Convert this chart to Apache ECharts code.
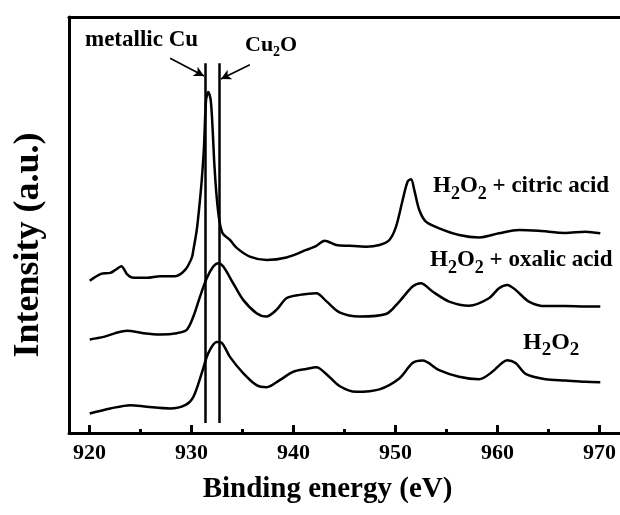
<!DOCTYPE html>
<html><head><meta charset="utf-8">
<script src="https://cdn.jsdelivr.net/npm/echarts@6/dist/echarts.min.js"></script>
<style>html,body{margin:0;padding:0;background:#fff}#c{width:620px;height:515px}</style>
</head><body><div id="c"></div><script>
// Binding energy (eV) and intensity (a.u.)
const citricE = [920.03,921.08,922.05,922.54,923.13,923.68,924.17,925.64,926.94,928.40,929.38,930.03,930.19,930.52,930.77,931.01,931.23,931.43,931.65,931.89,932.08,932.24,932.47,932.73,933.06,933.77,934.43,935.72,937.36,939.31,941.26,942.24,943.05,944.19,945.49,947.12,948.42,949.40,950.05,950.70,951.18,951.52,951.84,952.33,952.98,954.28,956.23,958.19,960.14,962.09,964.04,966.65,968.61,970.07];
const citricI = [36.6,38.2,38.5,39.2,40.1,38.2,37.4,37.3,37.7,37.7,39.2,42.1,44.0,48.8,54.4,60.8,68.8,80.0,82.0,80.0,72.8,64.8,56.8,51.2,48.0,46.4,44.5,42.4,41.6,42.2,44.0,45.0,46.2,45.2,45.0,44.8,45.2,46.4,49.6,56.0,60.4,61.0,58.4,53.6,50.8,49.2,47.6,47.0,48.0,48.8,48.6,48.1,48.4,48.0];
const oxalicE = [920.03,921.40,922.54,923.68,925.30,926.94,928.57,929.54,930.19,930.84,931.50,932.14,932.63,933.12,934.09,935.07,936.38,937.36,938.33,939.31,940.61,942.24,943.21,944.51,946.47,949.07,950.37,951.67,952.49,953.63,955.26,957.21,959.16,960.14,960.95,961.77,963.07,964.70,966.65,968.61,970.07];
const oxalicI = [22.5,23.1,24.0,24.6,24.0,23.7,24.0,24.8,28.0,32.8,37.2,40.0,40.8,40.0,36.0,32.0,28.8,28.0,29.6,32.4,33.2,33.6,31.7,29.0,28.0,28.6,31.6,35.2,36.0,34.0,31.6,30.6,32.4,34.8,35.6,34.4,31.6,30.5,30.5,30.4,30.4];
const h2o2E = [920.03,922.05,924.01,925.64,927.91,929.38,930.19,931.01,931.65,932.47,932.96,933.77,935.07,936.38,937.36,938.65,939.95,941.26,942.24,943.21,944.51,946.14,948.42,950.37,951.67,952.65,954.28,956.23,958.19,959.48,960.46,960.95,961.77,962.75,964.70,966.65,968.61,970.07];
const h2o2I = [4.7,5.9,6.7,6.3,5.9,6.7,8.7,14.4,19.2,21.9,21.7,18.3,14.4,11.5,11.0,12.7,14.7,15.4,15.8,14.2,11.3,9.9,10.5,13.1,16.8,17.4,15.1,13.5,12.9,14.7,16.9,17.5,16.8,14.2,12.9,12.6,12.3,12.2];
const majorTicks = [920,930,940,950,960,970];
const minorTicks = [925,935,945,955,965];
const refLines = [931.33, 932.7]; // metallic Cu, Cu2O

const pair = (e, v) => e.map((x, i) => [x, v[i]]);
const FF = '"Liberation Serif","Times New Roman",serif';
const lineStyle = {color:'#000', width:2.5};
const subRich = (main, sub, pad) => ({
  n:{fontFamily:FF, fontWeight:'bold', fontSize:main, fill:'#000', color:'#000', verticalAlign:'top'},
  s:{fontFamily:FF, fontWeight:'bold', fontSize:sub, fill:'#000', color:'#000', verticalAlign:'top', padding:[pad,0,0,0]}
});

const chart = echarts.init(document.getElementById('c'), null, {renderer:'canvas'});
chart.setOption({
  animation:false,
  backgroundColor:'#fff',
  grid:{left:69, top:17, width:553, height:416, show:false},
  xAxis:[{
    type:'value', min:918, max:972, position:'bottom',
    axisLine:{show:true, lineStyle:{color:'#000', width:3}},
    axisTick:{show:true, inside:true, length:8, customValues:majorTicks, lineStyle:{color:'#000', width:3}},
    axisLabel:{customValues:majorTicks, margin:9, color:'#000', fontFamily:FF, fontWeight:'bold', fontSize:22},
    splitLine:{show:false},
    name:'Binding energy (eV)', nameLocation:'middle', nameGap:42,
    nameTextStyle:{color:'#000', fontFamily:FF, fontWeight:'bold', fontSize:29, padding:[0,34,0,0]}
  },{
    type:'value', min:918, max:972, position:'bottom',
    axisLine:{show:false},
    axisTick:{show:true, inside:true, length:4, customValues:minorTicks, lineStyle:{color:'#000', width:3}},
    axisLabel:{show:false}, splitLine:{show:false}
  },{
    type:'value', min:918, max:972, position:'top',
    axisLine:{show:true, lineStyle:{color:'#000', width:3}},
    axisTick:{show:false}, axisLabel:{show:false}, splitLine:{show:false}
  }],
  yAxis:{
    type:'value', min:0, max:100,
    axisLine:{show:true, lineStyle:{color:'#000', width:3}},
    axisTick:{show:false}, axisLabel:{show:false}, splitLine:{show:false},
    name:'Intensity (a.u.)', nameLocation:'middle', nameGap:22, nameRotate:90,
    nameTextStyle:{color:'#000', fontFamily:FF, fontWeight:'bold', fontSize:36, padding:[0,40,0,0]}
  },
  series:[
    {type:'line', name:'H2O2 + citric acid', data:pair(citricE, citricI), showSymbol:false, smooth:0.3, lineStyle:lineStyle,
     markLine:{silent:true, symbol:['none','none'], label:{show:false}, lineStyle:{color:'#000', width:2.5, type:'solid'},
       data: refLines.map(e => [{coord:[e, 88.9]}, {coord:[e, 2.4]}])}},
    {type:'line', name:'H2O2 + oxalic acid', data:pair(oxalicE, oxalicI), showSymbol:false, smooth:0.3, lineStyle:lineStyle,
     markLine:{silent:true, symbol:['none','arrow'], symbolSize:[8,10], label:{show:false}, lineStyle:{color:'#000', width:1.6, type:'solid'},
       data:[
         [{coord:[927.91, 90.1]}, {coord:[931.23, 85.8]}],
         [{coord:[935.72, 88.5]}, {coord:[932.89, 85.1]}]
       ]}},
    {type:'line', name:'H2O2', data:pair(h2o2E, h2o2I), showSymbol:false, smooth:0.3, lineStyle:lineStyle}
  ],
  graphic:[
    {type:'text', x:85, y:29, style:{text:'metallic Cu', fontFamily:FF, fontWeight:'bold', fontSize:23, fill:'#000', align:'left', verticalAlign:'top'}},
    {type:'text', x:245, y:34, style:{text:'{n|Cu}{s|2}{n|O}', rich:subRich(22,14,11), fill:'#000', align:'left', verticalAlign:'top'}},
    {type:'text', x:433, y:175, style:{text:'{n|H}{s|2}{n|O}{s|2}{n| + citric acid}', rich:subRich(23,18,10), fill:'#000', align:'left', verticalAlign:'top'}},
    {type:'text', x:430, y:249, style:{text:'{n|H}{s|2}{n|O}{s|2}{n| + oxalic acid}', rich:subRich(23,18,10), fill:'#000', align:'left', verticalAlign:'top'}},
    {type:'text', x:523, y:331, style:{text:'{n|H}{s|2}{n|O}{s|2}', rich:subRich(24,19,10), fill:'#000', align:'left', verticalAlign:'top'}}
  ]
});
</script></body></html>
